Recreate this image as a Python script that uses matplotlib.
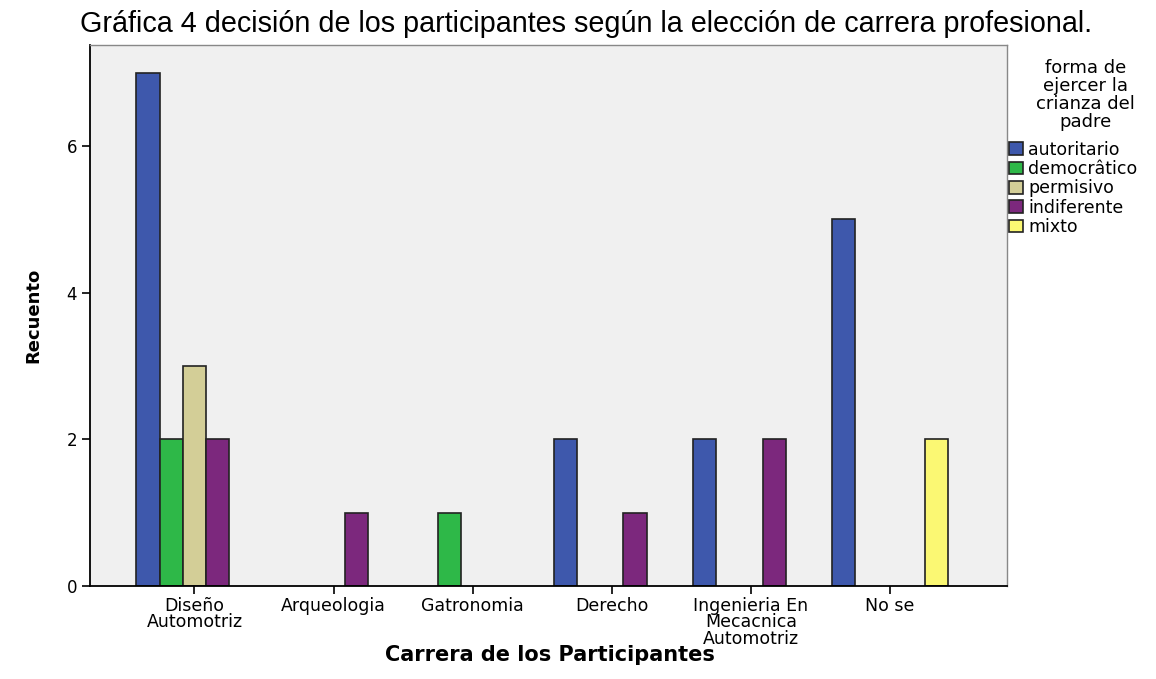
import matplotlib.pyplot as plt
import numpy as np

careers = ["Diseño\nAutomotriz", "Arqueologia", "Gatronomia", "Derecho",
           "Ingenieria En\nMecacnica\nAutomotriz", "No se"]
styles = ["autoritario", "democrâtico", "permisivo", "indiferente", "mixto"]
autoritario = [7, 0, 0, 2, 2, 5]
democratico = [2, 0, 1, 0, 0, 0]
permisivo = [3, 0, 0, 0, 0, 0]
indiferente = [2, 1, 0, 1, 2, 0]
mixto = [0, 0, 0, 0, 0, 2]
colors = ["#3E58AC", "#2EB848", "#D3CE97", "#7C287D", "#FBF873"]

series = [autoritario, democratico, permisivo, indiferente, mixto]

fig = plt.figure(figsize=(11.56, 6.79), dpi=100)
ax = fig.add_axes([0.078, 0.137, 0.793, 0.797])
ax.set_facecolor("#F0F0F0")

x = np.arange(len(careers))
w = 0.167
for i, (vals, name, c) in enumerate(zip(series, styles, colors)):
    vals = np.array(vals, dtype=float)
    # hide zero-height bars but keep them for the legend
    h = np.where(vals > 0, vals, np.nan)
    ax.bar(x + (i - 2) * w, h, width=w, color=c, edgecolor="#222222",
           linewidth=1.2, label=name)

ax.set_xlim(-0.75, 5.84)
ax.set_ylim(0, 7.38)
ax.set_yticks([0, 2, 4, 6])
ax.set_xticks(x)
ax.set_xticklabels(careers, fontsize=12.5, linespacing=0.88)
ax.tick_params(axis="y", labelsize=12, length=6, width=1.2)
ax.tick_params(axis="x", length=6, width=1.2, pad=2)

for s in ["left", "bottom"]:
    ax.spines[s].set_color("black")
    ax.spines[s].set_linewidth(1.3)
for s in ["top", "right"]:
    ax.spines[s].set_color("#888888")
    ax.spines[s].set_linewidth(1.0)

ax.set_ylabel("Recuento", fontsize=13, fontweight="bold", labelpad=17)
fig.text(0.476, 0.035, "Carrera de los Participantes", ha="center", va="center",
         fontsize=15, fontweight="bold")

fig.text(0.507, 0.965, "Gráfica 4 decisión de los participantes según la elección de carrera profesional.",
         ha="center", va="center", fontsize=20.7, family="Liberation Sans")

# legend title placed on its own, SPSS style
fig.text(0.939, 0.86, "forma de\nejercer la\ncrianza del\npadre", ha="center",
         va="center", fontsize=13, linespacing=1.0, multialignment="center")

leg = ax.legend(loc="upper left", bbox_to_anchor=(0.873, 0.793),
                bbox_transform=fig.transFigure, frameon=False,
                fontsize=12.5, handlelength=0.8,
                handleheight=0.75, handletextpad=0.3, labelspacing=0.08,
                borderaxespad=0, borderpad=0)

fig.savefig("out.png", dpi=100)
